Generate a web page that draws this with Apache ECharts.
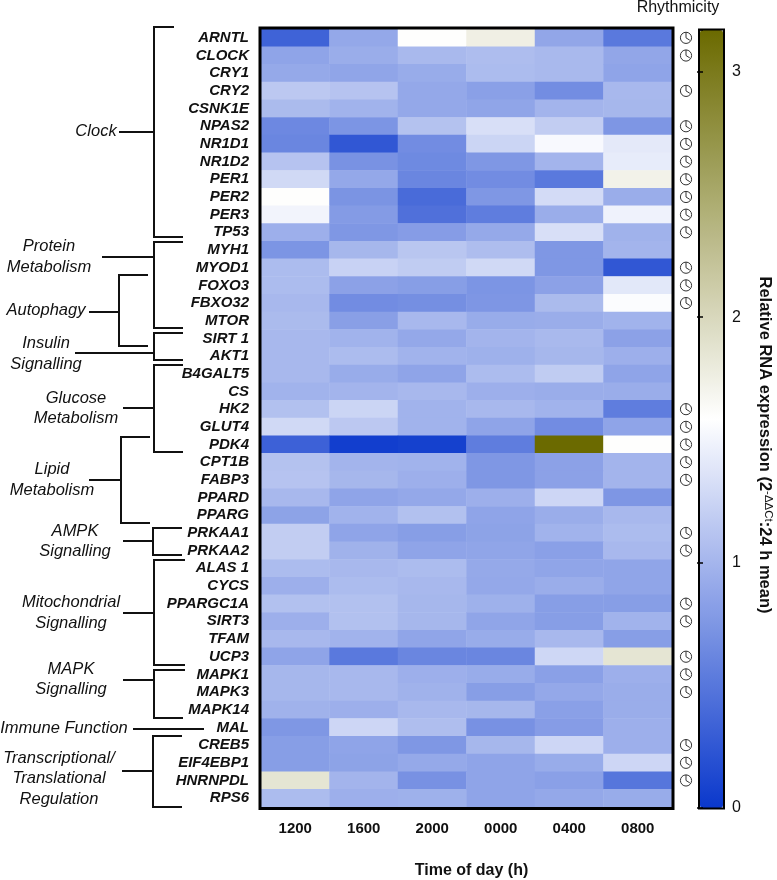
<!DOCTYPE html>
<html>
<head>
<meta charset="utf-8">
<title>Relative RNA expression</title>
<script src="https://cdn.jsdelivr.net/npm/echarts@6/dist/echarts.min.js"></script>
<style>
html,body{margin:0;padding:0;background:#fff;}
#main{width:777px;height:880px;}
</style>
</head>
<body>
<div id="main"></div>
<script>
var times = ['1200','1600','2000','0000','0400','0800'];
var genes = ['ARNTL','CLOCK','CRY1','CRY2','CSNK1E','NPAS2','NR1D1','NR1D2','PER1','PER2','PER3','TP53',
	'MYH1','MYOD1','FOXO3','FBXO32','MTOR','SIRT 1','AKT1','B4GALT5','CS','HK2','GLUT4','PDK4','CPT1B',
	'FABP3','PPARD','PPARG','PRKAA1','PRKAA2','ALAS 1','CYCS','PPARGC1A','SIRT3','TFAM','UCP3','MAPK1',
	'MAPK3','MAPK14','MAL','CREB5','EIF4EBP1','HNRNPDL','RPS6'];
// one row per gene, same order as times
var expression = [
	[0.34,0.89,1.60,1.75,0.88,0.52],
	[0.86,0.93,1.03,1.06,1.03,0.88],
	[0.90,0.87,0.92,1.05,1.03,0.86],
	[1.15,1.11,0.89,0.83,0.68,1.02],
	[1.04,0.98,0.89,0.87,0.99,1.01],
	[0.64,0.74,1.10,1.33,1.19,0.75],
	[0.62,0.25,0.67,1.25,1.54,1.41],
	[1.11,0.72,0.65,0.76,0.99,1.43],
	[1.28,0.89,0.62,0.67,0.52,1.72],
	[1.60,0.73,0.41,0.76,1.30,0.93],
	[1.50,0.79,0.45,0.55,0.93,1.48],
	[0.95,0.76,0.80,0.90,1.33,0.97],
	[0.74,1.01,1.13,1.06,0.76,0.99],
	[1.05,1.23,1.18,1.28,0.76,0.25],
	[1.05,0.84,0.81,0.74,0.84,1.40],
	[1.02,0.67,0.69,0.75,1.04,1.56],
	[1.04,0.82,1.02,0.92,0.93,0.98],
	[1.02,0.98,0.89,0.99,1.03,0.84],
	[1.02,1.05,0.98,0.96,1.01,0.95],
	[1.02,0.92,0.86,1.05,1.18,0.86],
	[0.98,0.99,1.02,0.95,0.93,0.93],
	[1.09,1.25,0.98,1.02,0.98,0.55],
	[1.28,1.15,0.98,0.86,0.67,0.86],
	[0.33,0.05,0.07,0.55,3.17,1.60],
	[1.10,0.99,0.98,0.76,0.84,0.99],
	[1.11,1.01,0.95,0.76,0.84,0.99],
	[1.02,0.86,0.89,0.95,1.26,0.75],
	[0.85,0.98,1.09,0.86,0.93,1.02],
	[1.19,0.86,0.81,0.85,0.98,1.05],
	[1.19,0.97,0.86,0.87,0.83,1.02],
	[1.05,1.02,1.05,0.90,0.87,0.87],
	[0.95,1.05,1.02,0.89,0.93,0.87],
	[1.09,1.09,1.01,0.96,0.81,0.81],
	[0.95,1.09,1.01,0.87,0.81,0.98],
	[1.02,0.98,0.87,0.92,1.02,0.81],
	[0.86,0.52,0.62,0.62,1.27,1.86],
	[1.01,1.02,0.95,0.92,0.83,0.95],
	[1.01,1.02,0.97,0.81,0.89,0.93],
	[0.97,0.95,1.02,1.01,0.83,0.93],
	[0.76,1.26,1.07,0.71,0.80,0.95],
	[0.81,0.86,0.76,1.01,1.26,0.95],
	[0.81,0.85,0.90,0.86,0.92,1.26],
	[1.86,0.99,0.71,0.86,0.83,0.49],
	[1.05,0.95,0.96,0.86,0.89,0.92]
];
var rhythmic = ['ARNTL','CLOCK','CRY2','NPAS2','NR1D1','NR1D2','PER1','PER2','PER3','TP53','MYOD1','FOXO3',
	'FBXO32','HK2','GLUT4','PDK4','CPT1B','FABP3','PRKAA1','PRKAA2','PPARGC1A','SIRT3','UCP3','MAPK1',
	'MAPK3','CREB5','EIF4EBP1','HNRNPDL'];
var scaleMin = 0;
var scaleMax = 3.17;

var heatData = [];
for (var i = 0; i < genes.length; i++) {
	for (var j = 0; j < times.length; j++) {
		heatData.push([j, i, expression[i][j]]);
	}
}
var clockData = rhythmic.map(function (g) { return [0, g]; });

var labelFont = 'Liberation Sans';
var graphics = [];

function addLine(points) {
	graphics.push({
		type: 'polyline',
		z: 20,
		shape: { points: points },
		style: { stroke: '#111', lineWidth: 2, fill: null }
	});
}
// square bracket with a stem going out to the left
function addBracket(x, top, bottom, armTop, armBottom, stemStart, stemY) {
	addLine([[armTop, top], [x, top], [x, bottom], [armBottom, bottom]]);
	addLine([[stemStart, stemY], [x, stemY]]);
}
function addLabel(text, x, y) {
	graphics.push({
		type: 'text',
		z: 20,
		x: x,
		y: y,
		style: {
			text: text,
			align: 'center',
			verticalAlign: 'middle',
			fill: '#111',
			font: 'italic 16.5px "' + labelFont + '"'
		}
	});
}

addBracket(154, 27, 237, 174, 183, 119, 132);
addBracket(154, 242, 328, 183, 183, 102, 257);
addBracket(119, 275, 346, 148, 148, 89, 312);
addBracket(154, 333, 360, 183, 183, 75, 353);
addBracket(154, 365, 452, 183, 183, 123, 408);
addBracket(121, 437, 523, 150, 150, 89, 480);
addBracket(153, 528, 555, 182, 182, 123, 541);
addBracket(154, 560, 665, 185, 185, 123, 613);
addBracket(154, 670, 718, 185, 183, 123, 680);
addBracket(153, 736, 807, 182, 182, 122, 771);
addLine([[133, 729], [204, 729]]);

addLabel('Clock', 96, 131);
addLabel('Protein', 49, 246);
addLabel('Metabolism', 49, 267);
addLabel('Autophagy', 46, 310);
addLabel('Insulin', 46, 343);
addLabel('Signalling', 46, 364);
addLabel('Glucose', 76, 398);
addLabel('Metabolism', 76, 418);
addLabel('Lipid', 52, 469);
addLabel('Metabolism', 52, 490);
addLabel('AMPK', 75, 531);
addLabel('Signalling', 75, 551);
addLabel('Mitochondrial', 71, 602);
addLabel('Signalling', 71, 623);
addLabel('MAPK', 71, 669);
addLabel('Signalling', 71, 689);
addLabel('Immune Function', 64, 728);
addLabel('Transcriptional/', 59, 758);
addLabel('Translational', 59, 778);
addLabel('Regulation', 59, 799);

// frames round the heatmap and the colour bar
graphics.push({ type: 'rect', z: 20, shape: { x: 260, y: 28, width: 413, height: 780.5 },
	style: { fill: null, stroke: '#000', lineWidth: 3 } });
graphics.push({ type: 'rect', z: 20, shape: { x: 699, y: 29.5, width: 25, height: 779 },
	style: { fill: null, stroke: '#000', lineWidth: 2 } });

graphics.push({ type: 'text', z: 20, x: 678, y: 8, style: {
	text: 'Rhythmicity', align: 'center', verticalAlign: 'middle', fill: '#111', font: '16px "' + labelFont + '"' } });

graphics.push({
	type: 'text', z: 20, x: 765, y: 445, rotation: -Math.PI / 2,
	style: {
		text: '{a|Relative RNA expression (2}{b|-ΔΔCt}{a|:24 h mean)}',
		align: 'center',
		verticalAlign: 'middle',
		rich: {
			a: { font: 'bold 16.5px "' + labelFont + '"', fill: '#111', lineHeight: 20 },
			b: { font: '11.5px "' + labelFont + '"', fill: '#111', lineHeight: 20, padding: [0, 0, 7, 0] }
		}
	}
});

var myChart = echarts.init(document.getElementById('main'));

var option = {
	backgroundColor: '#fff',
	animation: false,
	grid: [
		{ left: 261, top: 29, width: 411, height: 778, outerBoundsMode: 'none' },
		{ left: 700, top: 30, width: 23, height: 778, outerBoundsMode: 'none' },
		{ left: 675, top: 29, width: 22, height: 778, outerBoundsMode: 'none' }
	],
	xAxis: [
		{
			type: 'category',
			data: times,
			gridIndex: 0,
			axisLine: { show: false },
			axisTick: { show: false },
			axisLabel: { margin: 14, color: '#111', fontFamily: labelFont, fontWeight: 'bold', fontSize: 15 },
			name: 'Time of day (h)',
			nameLocation: 'middle',
			nameGap: 56,
			nameTextStyle: { color: '#111', fontFamily: labelFont, fontWeight: 'bold', fontSize: 16, padding: [0, 0, 0, 10] }
		},
		{ type: 'value', gridIndex: 1, show: false, min: 0, max: 1 },
		{ type: 'category', gridIndex: 2, show: false, data: ['Rhythmicity'] }
	],
	yAxis: [
		{
			type: 'category',
			data: genes,
			inverse: true,
			gridIndex: 0,
			axisLine: { show: false },
			axisTick: { show: false },
			axisLabel: { margin: 12, interval: 0, color: '#111', fontFamily: labelFont, fontWeight: 'bold', fontStyle: 'italic', fontSize: 15 }
		},
		{
			type: 'value',
			gridIndex: 1,
			position: 'right',
			min: scaleMin,
			max: scaleMax,
			interval: 1,
			z: 30,
			splitLine: { show: false },
			axisLine: { show: false },
			axisTick: { inside: true, length: 3, lineStyle: { color: '#000', width: 1.5 } },
			axisLabel: { margin: 9, showMaxLabel: false, color: '#111', fontFamily: labelFont, fontSize: 16 }
		},
		{
			type: 'value',
			gridIndex: 1,
			position: 'left',
			min: scaleMin,
			max: scaleMax,
			interval: 1,
			z: 30,
			splitLine: { show: false },
			axisLine: { show: false },
			axisTick: { inside: true, length: 3, lineStyle: { color: '#000', width: 1.5 } },
			axisLabel: { show: false }
		},
		{ type: 'category', gridIndex: 2, show: false, inverse: true, data: genes }
	],
	visualMap: {
		type: 'continuous',
		seriesIndex: 0,
		min: scaleMin,
		max: scaleMax,
		calculable: false,
		hoverLink: false,
		left: 700,
		top: 30,
		padding: 0,
		itemWidth: 23,
		itemHeight: 778,
		text: null,
		showLabel: false,
		inRange: { color: ['#0a38cc', '#ffffff', '#6b6a00'] }
	},
	graphic: graphics,
	series: [
		{
			name: 'Relative RNA expression',
			type: 'heatmap',
			xAxisIndex: 0,
			yAxisIndex: 0,
			data: heatData,
			itemStyle: { borderWidth: 0 }
		},
		{
			name: 'Rhythmicity',
			type: 'custom',
			xAxisIndex: 2,
			yAxisIndex: 3,
			data: clockData,
			renderItem: function (params, api) {
				var c = api.coord([api.value(0), api.value(1)]);
				var r = 5.6;
				return {
					type: 'group',
					children: [
						{ type: 'circle', shape: { cx: c[0], cy: c[1], r: r },
							style: { fill: '#fff', stroke: '#333', lineWidth: 1 } },
						{ type: 'polyline', shape: { points: [[c[0], c[1] - r], [c[0], c[1]], [c[0] + 3.8, c[1] + 2.4]] },
							style: { fill: null, stroke: '#333', lineWidth: 1 } }
					]
				};
			}
		}
	]
};
myChart.setOption(option);
</script>
</body>
</html>
